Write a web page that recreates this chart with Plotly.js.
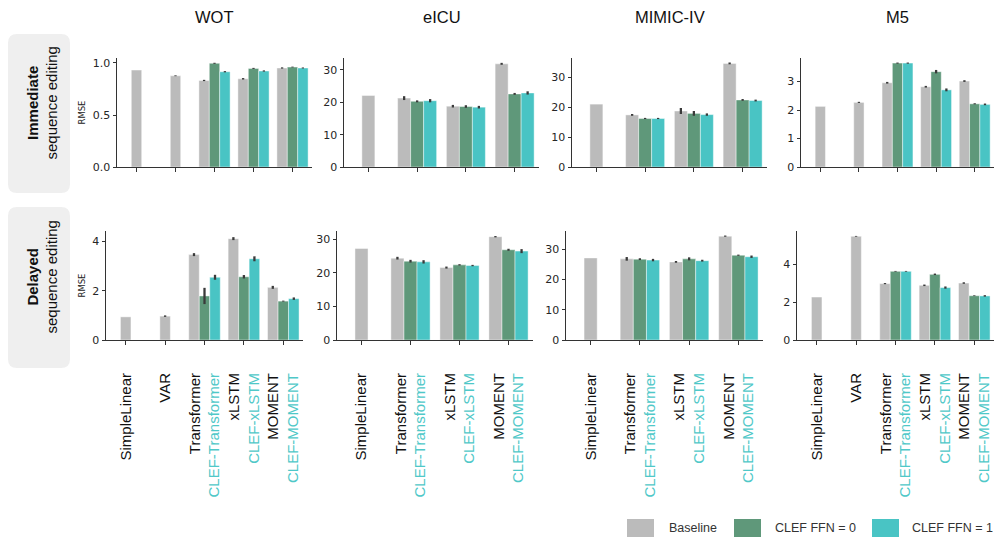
<!DOCTYPE html>
<html><head><meta charset="utf-8">
<script src="https://cdn.plot.ly/plotly-3.0.1.min.js"></script>
<style>html,body{margin:0;padding:0;background:#fff;} #chart{width:994px;height:538px;}</style>
</head><body><div id="chart"></div>
<script>
// ---------- data ----------
const datasetNames = ["WOT", "eICU", "MIMIC-IV", "M5"];
const rowLabels = ["Immediate", "Delayed"];
const modelsWithVAR = ["SimpleLinear", "VAR", "Transformer", "xLSTM", "MOMENT"];
const modelsNoVAR = ["SimpleLinear", "Transformer", "xLSTM", "MOMENT"];
const clefModels = ["Transformer", "xLSTM", "MOMENT"];
const legendNames = ["Baseline", "CLEF FFN = 0", "CLEF FFN = 1"];

// Immediate sequence editing
const wotImmBase = [0.932, 0.877, 0.832, 0.848, 0.952];
const wotImmBaseErr = [0, 0.004, 0.006, 0.007, 0.006];
const wotImmFfn0 = [0.997, 0.948, 0.961];
const wotImmFfn0Err = [0.005, 0.005, 0.004];
const wotImmFfn1 = [0.916, 0.923, 0.952];
const wotImmFfn1Err = [0.006, 0.006, 0.005];

const eicuImmBase = [22.1, 21.3, 18.8, 31.9];
const eicuImmBaseErr = [0, 0.6, 0.4, 0.3];
const eicuImmFfn0 = [20.3, 18.7, 22.6];
const eicuImmFfn0Err = [0.3, 0.4, 0.3];
const eicuImmFfn1 = [20.5, 18.5, 22.9];
const eicuImmFfn1Err = [0.5, 0.4, 0.5];

const mimicImmBase = [21.0, 17.4, 18.7, 34.6];
const mimicImmBaseErr = [0, 0.3, 1.0, 0.3];
const mimicImmFfn0 = [16.2, 17.9, 22.4];
const mimicImmFfn0Err = [0.2, 0.8, 0.3];
const mimicImmFfn1 = [16.2, 17.5, 22.2];
const mimicImmFfn1Err = [0.2, 0.4, 0.3];

const m5ImmBase = [2.13, 2.27, 2.96, 2.82, 3.02];
const m5ImmBaseErr = [0, 0.02, 0.03, 0.03, 0.03];
const m5ImmFfn0 = [3.65, 3.35, 2.22];
const m5ImmFfn0Err = [0.02, 0.06, 0.02];
const m5ImmFfn1 = [3.65, 2.71, 2.20];
const m5ImmFfn1Err = [0.02, 0.05, 0.03];

// Delayed sequence editing
const wotDelBase = [0.94, 0.97, 3.47, 4.12, 2.14];
const wotDelBaseErr = [0, 0.03, 0.06, 0.06, 0.06];
const wotDelFfn0 = [1.79, 2.57, 1.58];
const wotDelFfn0Err = [0.33, 0.07, 0.02];
const wotDelFfn1 = [2.55, 3.30, 1.68];
const wotDelFfn1Err = [0.10, 0.10, 0.05];

const eicuDelBase = [27.3, 24.4, 21.6, 30.8];
const eicuDelBaseErr = [0, 0.4, 0.3, 0.2];
const eicuDelFfn0 = [23.5, 22.4, 26.9];
const eicuDelFfn0Err = [0.4, 0.2, 0.3];
const eicuDelFfn1 = [23.3, 22.2, 26.5];
const eicuDelFfn1Err = [0.5, 0.2, 0.6];

const mimicDelBase = [27.1, 26.8, 25.8, 34.3];
const mimicDelBaseErr = [0, 0.6, 0.3, 0.2];
const mimicDelFfn0 = [26.7, 26.8, 28.0];
const mimicDelFfn0Err = [0.3, 0.5, 0.2];
const mimicDelFfn1 = [26.4, 26.2, 27.5];
const mimicDelFfn1Err = [0.4, 0.3, 0.4];

const m5DelBase = [2.27, 5.48, 2.98, 2.89, 3.01];
const m5DelBaseErr = [0, 0.02, 0.03, 0.04, 0.04];
const m5DelFfn0 = [3.63, 3.47, 2.34];
const m5DelFfn0Err = [0.02, 0.04, 0.02];
const m5DelFfn1 = [3.63, 2.77, 2.33];
const m5DelFfn1Err = [0.02, 0.06, 0.04];

// ---------- styling ----------
const W = 994, H = 538;
const colBase = "#bbbbbb", colF0 = "#5f987a", colF1 = "#49c4c4", colClefText = "#4fc8c8";
const errColor = "#3a3a3a";
const barW = 0.8 / 3;
const px = v => v / W;
const py = v => 1 - v / H;

const panels = [
  {cats: modelsWithVAR, base: wotImmBase, be: wotImmBaseErr, f0: wotImmFfn0, f0e: wotImmFfn0Err, f1: wotImmFfn1, f1e: wotImmFfn1Err, xd: [117, 312], yr: 1.048, dtick: 0.5, fmt: ".1f"},
  {cats: modelsNoVAR, base: eicuImmBase, be: eicuImmBaseErr, f0: eicuImmFfn0, f0e: eicuImmFfn0Err, f1: eicuImmFfn1, f1e: eicuImmFfn1Err, xd: [344, 539], yr: 33.7, dtick: 10, fmt: "d"},
  {cats: modelsNoVAR, base: mimicImmBase, be: mimicImmBaseErr, f0: mimicImmFfn0, f0e: mimicImmFfn0Err, f1: mimicImmFfn1, f1e: mimicImmFfn1Err, xd: [572, 767], yr: 36.4, dtick: 10, fmt: "d"},
  {cats: modelsWithVAR, base: m5ImmBase, be: m5ImmBaseErr, f0: m5ImmFfn0, f0e: m5ImmFfn0Err, f1: m5ImmFfn1, f1e: m5ImmFfn1Err, xd: [801, 994], yr: 3.83, dtick: 1, fmt: "d"},
  {cats: modelsWithVAR, base: wotDelBase, be: wotDelBaseErr, f0: wotDelFfn0, f0e: wotDelFfn0Err, f1: wotDelFfn1, f1e: wotDelFfn1Err, xd: [106, 303], yr: 4.43, dtick: 2, fmt: "d"},
  {cats: modelsNoVAR, base: eicuDelBase, be: eicuDelBaseErr, f0: eicuDelFfn0, f0e: eicuDelFfn0Err, f1: eicuDelFfn1, f1e: eicuDelFfn1Err, xd: [337, 533], yr: 32.5, dtick: 10, fmt: "d"},
  {cats: modelsNoVAR, base: mimicDelBase, be: mimicDelBaseErr, f0: mimicDelFfn0, f0e: mimicDelFfn0Err, f1: mimicDelFfn1, f1e: mimicDelFfn1Err, xd: [566, 763], yr: 36.0, dtick: 10, fmt: "d"},
  {cats: modelsWithVAR, base: m5DelBase, be: m5DelBaseErr, f0: m5DelFfn0, f0e: m5DelFfn0Err, f1: m5DelFfn1, f1e: m5DelFfn1Err, xd: [797, 994], yr: 5.76, dtick: 2, fmt: "d"}
];
const rowY = [[58, 167], [231, 340]];

const traces = [];
const layout = {
  width: W, height: H, margin: {l: 0, r: 0, t: 0, b: 0},
  paper_bgcolor: "#fff", plot_bgcolor: "rgba(0,0,0,0)",
  barmode: "overlay", showlegend: false,
  font: {family: "Liberation Sans, Arial, sans-serif", color: "#222"},
  annotations: [], shapes: []
};

function errObj(arr) {
  return {type: "data", array: arr, visible: true, color: errColor, thickness: 2.3, width: 0};
}
const edge = {color: "rgba(255,255,255,0.55)", width: 0.8};

panels.forEach((p, i) => {
  const n = i + 1;
  const xa = n === 1 ? "x" : "x" + n;
  const ya = n === 1 ? "y" : "y" + n;
  const row = i < 4 ? 0 : 1;
  const col = i % 4;
  traces.push({
    type: "bar", name: legendNames[0], x: p.cats, y: p.base, xaxis: xa, yaxis: ya,
    width: barW, offset: p.cats.map(c => clefModels.includes(c) ? -1.5 * barW : -0.5 * barW),
    marker: {color: colBase, line: edge}, error_y: errObj(p.be), hoverinfo: "x+y"
  });
  traces.push({
    type: "bar", name: legendNames[1], x: clefModels, y: p.f0, xaxis: xa, yaxis: ya,
    width: barW, offset: -0.5 * barW,
    marker: {color: colF0, line: edge}, error_y: errObj(p.f0e), hoverinfo: "x+y"
  });
  traces.push({
    type: "bar", name: legendNames[2], x: clefModels, y: p.f1, xaxis: xa, yaxis: ya,
    width: barW, offset: 0.5 * barW,
    marker: {color: colF1, line: edge}, error_y: errObj(p.f1e), hoverinfo: "x+y"
  });
  const ticktext = p.cats.map(c => clefModels.includes(c)
    ? c + '<br><span style="color:' + colClefText + '">CLEF-' + c + '</span>' : c);
  layout["xaxis" + (n === 1 ? "" : n)] = {
    domain: [px(p.xd[0]), px(p.xd[1])], anchor: ya,
    type: "category", categoryorder: "array", categoryarray: p.cats,
    range: [-0.5, p.cats.length - 0.5], fixedrange: true,
    showline: true, linecolor: "#333", linewidth: 1,
    ticks: "outside", ticklen: 4, tickwidth: 1, tickcolor: "#333",
    showgrid: false, zeroline: false,
    showticklabels: row === 1, tickvals: p.cats, ticktext: ticktext,
    tickangle: -90, ticklabelstandoff: 22,
    tickfont: {family: "Liberation Sans, Arial, sans-serif", size: 15, color: "#111"}
  };
  layout["yaxis" + (n === 1 ? "" : n)] = {
    domain: [py(rowY[row][1]), py(rowY[row][0])], anchor: xa,
    range: [0, p.yr], dtick: p.dtick, tick0: 0, tickformat: p.fmt, fixedrange: true,
    showline: true, linecolor: "#333", linewidth: 1,
    ticks: "outside", ticklen: 3.5, tickwidth: 1, tickcolor: "#333",
    showgrid: false, zeroline: false,
    tickfont: {family: "DejaVu Sans, sans-serif", size: 11, color: "#262626"},
    title: col === 0 ? {text: "RMSE", font: {family: "DejaVu Sans, sans-serif", size: 8.5, color: "#222"}, standoff: 5} : {text: ""}
  };
  if (row === 0) {
    layout.annotations.push({
      xref: "paper", yref: "paper", x: px((p.xd[0] + p.xd[1]) / 2), y: py(17),
      xanchor: "center", yanchor: "middle", showarrow: false, text: datasetNames[col],
      font: {family: "Liberation Sans, Arial, sans-serif", size: 16.5, color: "#111"}
    });
  }
});

// row label boxes
function roundRect(x0, y0, x1, y1, r) {
  const X = v => px(v).toFixed(5), Y = v => py(v).toFixed(5);
  return `M${X(x0 + r)},${Y(y0)} L${X(x1 - r)},${Y(y0)} Q${X(x1)},${Y(y0)} ${X(x1)},${Y(y0 + r)} ` +
    `L${X(x1)},${Y(y1 - r)} Q${X(x1)},${Y(y1)} ${X(x1 - r)},${Y(y1)} L${X(x0 + r)},${Y(y1)} ` +
    `Q${X(x0)},${Y(y1)} ${X(x0)},${Y(y1 - r)} L${X(x0)},${Y(y0 + r)} Q${X(x0)},${Y(y0)} ${X(x0 + r)},${Y(y0)} Z`;
}
const boxes = [[8, 34, 70, 193], [8, 207, 70, 368]];
boxes.forEach((b, k) => {
  layout.shapes.push({type: "path", xref: "paper", yref: "paper", path: roundRect(b[0], b[1], b[2], b[3], 9),
    fillcolor: "#efefef", line: {width: 0}, layer: "below"});
  layout.annotations.push({
    xref: "paper", yref: "paper", x: px(42), y: py((b[1] + b[3]) / 2 - 10),
    xanchor: "center", yanchor: "middle", showarrow: false, textangle: -90,
    text: "<b>" + rowLabels[k] + "</b><br>sequence editing",
    font: {family: "Liberation Sans, Arial, sans-serif", size: 15, color: "#111"}
  });
});

// legend
const legendItems = [[627, 667, colBase], [734, 773, colF0], [872, 910, colF1]];
legendItems.forEach((it, k) => {
  layout.shapes.push({type: "rect", xref: "paper", yref: "paper",
    x0: px(it[0]), x1: px(it[0] + 27), y0: py(537), y1: py(519),
    fillcolor: it[2], line: {width: 0}});
  layout.annotations.push({xref: "paper", yref: "paper", x: px(it[1]), y: py(528),
    xanchor: "left", yanchor: "middle", showarrow: false, text: legendNames[k],
    font: {family: "Liberation Sans, Arial, sans-serif", size: 12.5, color: "#333"}});
});

Plotly.newPlot("chart", traces, layout, {staticPlot: true, displayModeBar: false});
</script>
</body></html>
